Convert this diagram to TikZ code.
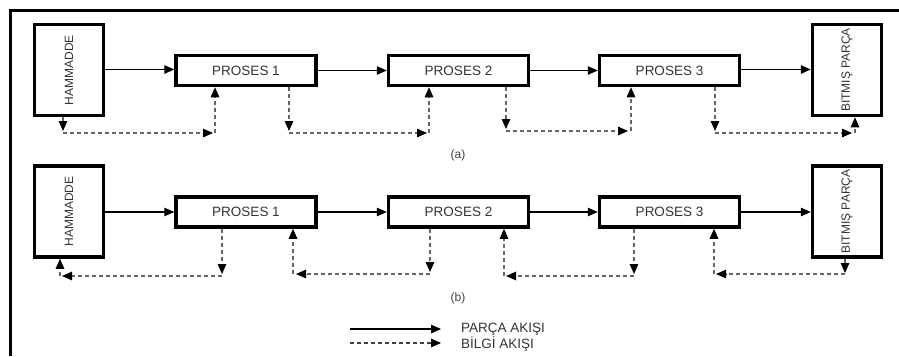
\documentclass[tikz,border=0pt]{standalone}
\usepackage{fontspec}
\setmainfont{Liberation Sans}
\usetikzlibrary{arrows.meta}
\newcommand\boxfont{\color{black!80}\fontsize{12}{14}\selectfont}
\begin{document}
\begin{tikzpicture}[x=1pt,y=-1pt,
  txt/.style={text=black!80,font=\fontsize{13.5}{15}\selectfont},
  endbox/.style={draw,line width=3.5pt,minimum width=69pt,minimum height=91pt,inner sep=0pt},
  procbox/.style={draw,line width=3.5pt,minimum width=140pt,minimum height=30pt,inner sep=0pt,txt},
  tip/.style={-{Triangle[length=10pt,width=8.5pt,color=black]}},
  flow/.style={line width=1.2pt,tip},
  info/.style={line width=1.2pt,draw=black!60,dash pattern=on 4pt off 3pt,tip},
  lbl/.style={text=black!75,font=\fontsize{12}{14}\selectfont}]
\useasboundingbox (0,0) rectangle (899,356);
\draw[line width=3pt] (899,10) -- (10,10) -- (10,356);

% ---------- row (a)
\node[endbox] (ha) at (69,70) {\rotatebox{90}{\boxfont HAMMADDE}};
\node[procbox] (p1a) at (246,70.5) {PROSES 1};
\node[procbox] (p2a) at (458.5,70.5) {PROSES 2};
\node[procbox] (p3a) at (669.5,70.5) {PROSES 3};
\node[endbox] (ba) at (847,70) {\rotatebox{90}{\boxfont BITMIŞ PARÇA}};
\draw[flow] (ha.east |- 0,69.5) -- (p1a.west |- 0,69.5);
\draw[flow] (p1a) -- (p2a);
\draw[flow] (p2a) -- (p3a);
\draw[flow] (p3a.east |- 0,69.5) -- (ba.west |- 0,69.5);

\coordinate (a1) at (63,133);  \coordinate (a1e) at (215,133);
\coordinate (a2) at (289,133); \coordinate (a2e) at (429,133);
\coordinate (a3) at (506,131); \coordinate (a3e) at (631,131);
\coordinate (a4) at (715,133); \coordinate (a4e) at (855,133);
\draw[info,shorten >=2pt] (ha.south -| a1) -- (a1);
\draw[info,shorten >=2pt] (a1) -- (a1e);
\draw[info] (a1e) -- (p1a.south -| a1e);
\draw[info,shorten >=2pt] (p1a.south -| a2) -- (a2);
\draw[info,shorten >=2pt] (a2) -- (a2e);
\draw[info] (a2e) -- (p2a.south -| a2e);
\draw[info,shorten >=2pt] (p2a.south -| a3) -- (a3);
\draw[info,shorten >=3pt] (a3) -- (a3e);
\draw[info] (a3e) -- (p3a.south -| a3e);
\draw[info,shorten >=2pt] (p3a.south -| a4) -- (a4);
\draw[info,shorten >=3pt] (a4) -- (a4e);
\draw[info] (a4e) -- (ba.south -| a4e);
\node[lbl] (la) at (458,155) {(a)};

% ---------- row (b)
\node[endbox] (hb) at (69,211.5) {\rotatebox{90}{\boxfont HAMMADDE}};
\node[procbox] (p1b) at (246,212) {PROSES 1};
\node[procbox] (p2b) at (458.5,212) {PROSES 2};
\node[procbox] (p3b) at (669.5,212) {PROSES 3};
\node[endbox] (bb) at (847,211.5) {\rotatebox{90}{\boxfont BITMIŞ PARÇA}};
\draw[flow] (hb.east |- 0,212) -- (p1b.west |- 0,212);
\draw[flow] (p1b) -- (p2b);
\draw[flow] (p2b) -- (p3b);
\draw[flow] (p3b.east |- 0,212) -- (bb.west |- 0,212);

\coordinate (b1) at (222,276); \coordinate (b1e) at (60,276);
\coordinate (b2) at (430,274); \coordinate (b2e) at (293,274);
\coordinate (b3) at (634,276); \coordinate (b3e) at (504,276);
\coordinate (b4) at (845,274); \coordinate (b4e) at (714,274);
\draw[info,shorten >=2pt] (p1b.south -| b1) -- (b1);
\draw[info,shorten >=2pt] (b1) -- (b1e);
\draw[info] (b1e) -- (hb.south -| b1e);
\draw[info,shorten >=2pt] (p2b.south -| b2) -- (b2);
\draw[info,shorten >=3pt] (b2) -- (b2e);
\draw[info] (b2e) -- (p1b.south -| b2e);
\draw[info,shorten >=2pt] (p3b.south -| b3) -- (b3);
\draw[info,shorten >=2pt] (b3) -- (b3e);
\draw[info] (b3e) -- (p2b.south -| b3e);
\draw[info,shorten >=1pt] (bb.south -| b4) -- (b4);
\draw[info,shorten >=2pt] (b4) -- (b4e);
\draw[info] (b4e) -- (p3b.south -| b4e);
\node[lbl] (lb) at (458,298) {(b)};

% ---------- legend
\coordinate (ls1) at (350,329); \coordinate (le1) at (441,329);
\coordinate (ls2) at (350,343); \coordinate (le2) at (441,343);
\draw[flow] (ls1) -- (le1);
\draw[info,draw=black!75] (ls2) -- (le2);
\node[txt,anchor=west,inner sep=0pt] (t1) at (461,329) {PARÇA AKIŞI};
\node[txt,anchor=west,inner sep=0pt] (t2) at (461,344) {BİLGİ AKIŞI};
\end{tikzpicture}
\end{document}
